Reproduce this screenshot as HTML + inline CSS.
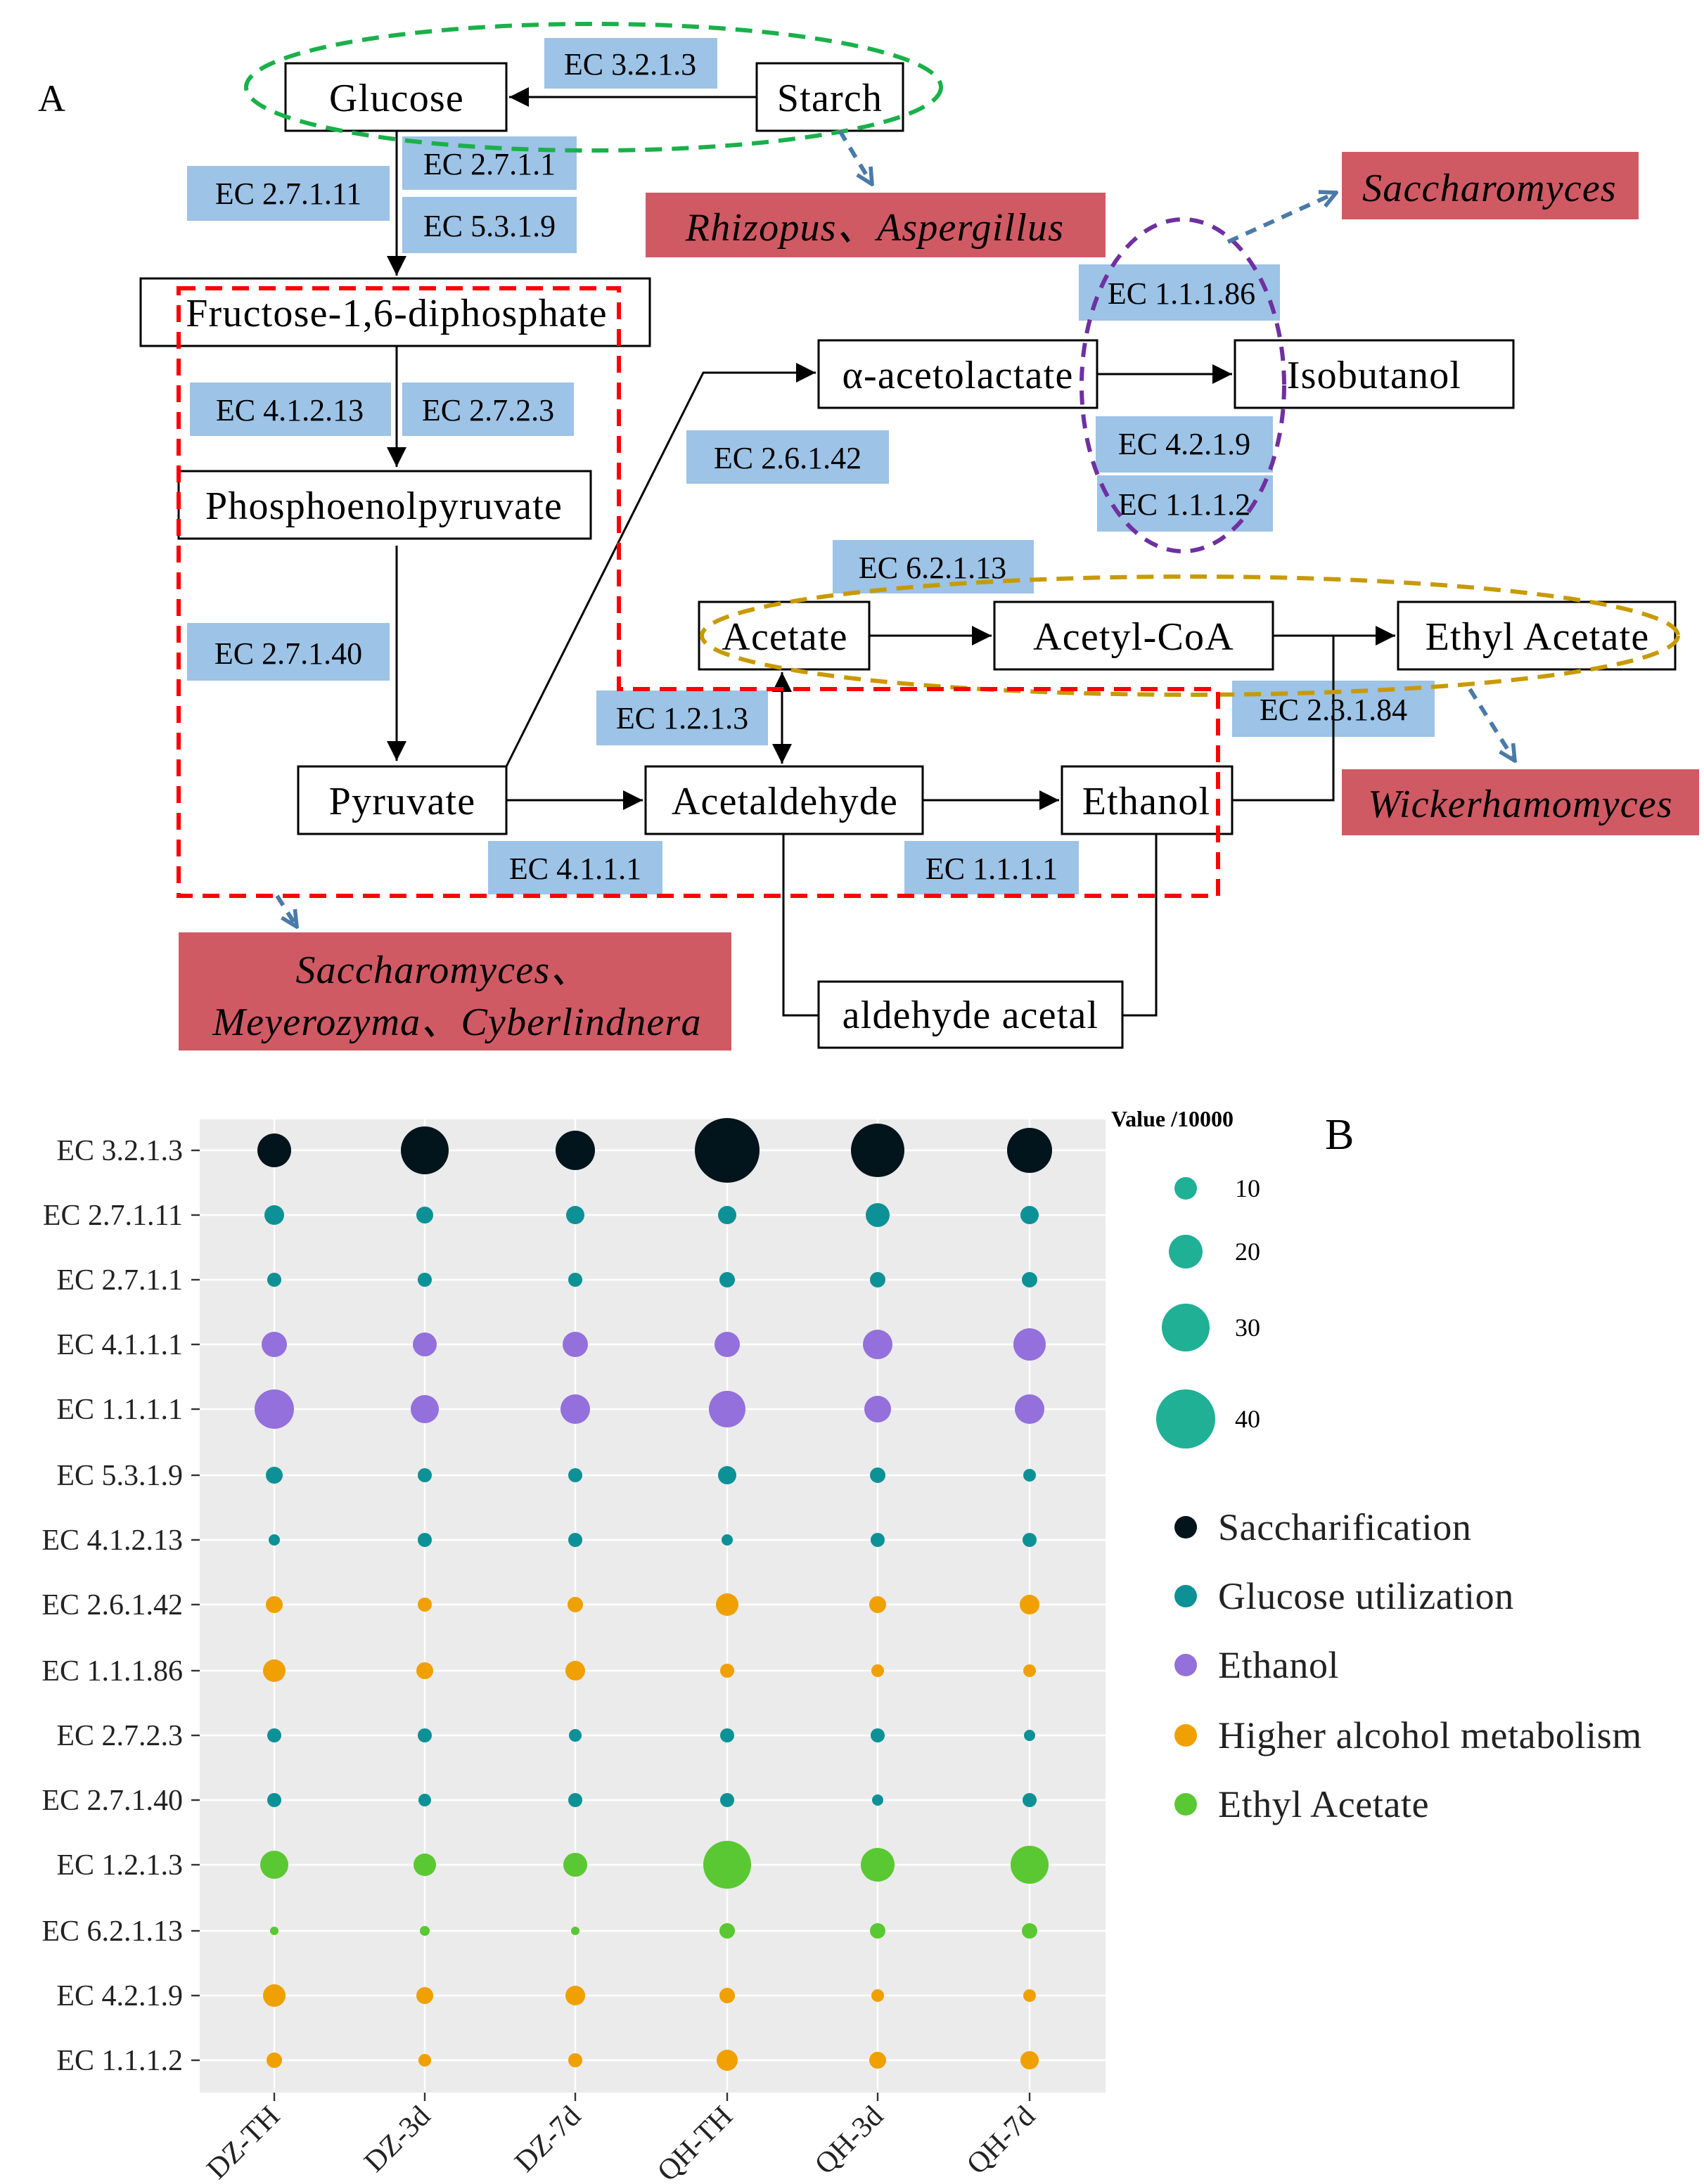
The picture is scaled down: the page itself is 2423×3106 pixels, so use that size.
<!DOCTYPE html>
<html><head><meta charset="utf-8"><style>html,body{margin:0;padding:0;background:#fff}svg{display:block}</style></head>
<body>
<svg xmlns="http://www.w3.org/2000/svg" width="2423" height="3106" viewBox="0 0 1211.5 1553" font-family="Liberation Serif, serif">
<defs>
<marker id="ah" viewBox="0 0 10 10" refX="10" refY="5" markerWidth="14" markerHeight="14" markerUnits="userSpaceOnUse" orient="auto-start-reverse"><path d="M0,0 L10,5 L0,10 z" fill="#000"/></marker>
<marker id="bh" viewBox="0 0 10 10" refX="9" refY="5" markerWidth="14" markerHeight="14" markerUnits="userSpaceOnUse" orient="auto"><path d="M1,1 L9,5 L1,9" fill="none" stroke="#4a7aa8" stroke-width="2"/></marker>
</defs>
<rect width="1211.5" height="1553" fill="#fff"/>
<text x="27" y="79" font-size="27">A</text>
<g fill="#9dc3e6">
<rect x="387" y="27" width="123" height="36"/>
<rect x="133" y="118" width="144" height="39"/>
<rect x="286" y="97" width="124" height="38"/>
<rect x="286" y="140" width="124" height="40"/>
<rect x="135" y="272" width="143" height="38"/>
<rect x="286" y="272" width="122" height="38"/>
<rect x="133" y="443" width="144" height="41"/>
<rect x="488" y="306" width="144" height="38"/>
<rect x="767" y="188" width="143" height="40"/>
<rect x="779" y="296" width="126" height="40"/>
<rect x="780" y="338" width="125" height="40"/>
<rect x="592" y="384" width="143" height="38"/>
<rect x="876" y="484" width="144" height="40"/>
<rect x="424" y="491" width="122" height="39"/>
<rect x="347" y="598" width="124" height="38"/>
<rect x="643" y="598" width="124" height="38"/>
</g>
<g font-size="22" text-anchor="middle" fill="#000">
<text x="448" y="53">EC 3.2.1.3</text>
<text x="205" y="145">EC 2.7.1.11</text>
<text x="348" y="124">EC 2.7.1.1</text>
<text x="348" y="168">EC 5.3.1.9</text>
<text x="206" y="299">EC 4.1.2.13</text>
<text x="347" y="299">EC 2.7.2.3</text>
<text x="205" y="472">EC 2.7.1.40</text>
<text x="560" y="333">EC 2.6.1.42</text>
<text x="840" y="216">EC 1.1.1.86</text>
<text x="842" y="323">EC 4.2.1.9</text>
<text x="842" y="366">EC 1.1.1.2</text>
<text x="663" y="411">EC 6.2.1.13</text>
<text x="948" y="512">EC 2.3.1.84</text>
<text x="485" y="518">EC 1.2.1.3</text>
<text x="409" y="625">EC 4.1.1.1</text>
<text x="705" y="625">EC 1.1.1.1</text>
</g>
<g fill="#d05a64">
<rect x="459" y="137" width="327" height="46"/>
<rect x="954" y="108" width="211" height="48"/>
<rect x="954" y="547" width="254" height="47"/>
<rect x="127" y="663" width="393" height="84"/>
</g>
<g font-size="28" font-style="italic" text-anchor="middle" fill="#000" letter-spacing="0.6">
<text x="622" y="171">Rhizopus、Aspergillus</text>
<text x="1059" y="143">Saccharomyces</text>
<text x="1081" y="581">Wickerhamomyces</text>
<text x="315" y="699">Saccharomyces、</text>
<text x="325" y="736">Meyerozyma、Cyberlindnera</text>
</g>
<g fill="#fff" stroke="#000" stroke-width="1.5">
<rect x="203" y="45" width="157" height="48"/>
<rect x="538" y="45" width="104" height="48"/>
<rect x="100" y="198" width="362" height="48"/>
<rect x="127" y="335" width="293" height="48"/>
<rect x="212" y="545" width="148" height="48"/>
<rect x="582" y="242" width="198" height="48"/>
<rect x="878" y="242" width="198" height="48"/>
<rect x="497" y="428" width="121" height="48"/>
<rect x="707" y="428" width="198" height="48"/>
<rect x="994" y="428" width="197" height="48"/>
<rect x="459" y="545" width="197" height="48"/>
<rect x="755" y="545" width="121" height="48"/>
<rect x="582" y="698" width="216" height="47"/>
</g>
<g font-size="28" text-anchor="middle" fill="#000" letter-spacing="0.6">
<text x="282" y="79">Glucose</text>
<text x="590" y="79">Starch</text>
<text x="282" y="232">Fructose-1,6-diphosphate</text>
<text x="273" y="369">Phosphoenolpyruvate</text>
<text x="286" y="579">Pyruvate</text>
<text x="681" y="276">α-acetolactate</text>
<text x="977" y="276">Isobutanol</text>
<text x="558" y="462">Acetate</text>
<text x="806" y="462">Acetyl-CoA</text>
<text x="1093" y="462">Ethyl Acetate</text>
<text x="558" y="579">Acetaldehyde</text>
<text x="815" y="579">Ethanol</text>
<text x="690" y="731">aldehyde acetal</text>
</g>
<g stroke="#000" stroke-width="1.5" fill="none">
<line x1="538" y1="69" x2="362" y2="69" marker-end="url(#ah)"/>
<line x1="282" y1="93" x2="282" y2="196" marker-end="url(#ah)"/>
<line x1="282" y1="246" x2="282" y2="332" marker-end="url(#ah)"/>
<line x1="282" y1="388" x2="282" y2="541" marker-end="url(#ah)"/>
<polyline points="360,545 500,265 580,265" marker-end="url(#ah)"/>
<line x1="780" y1="266" x2="876" y2="266" marker-end="url(#ah)"/>
<line x1="618" y1="452" x2="705" y2="452" marker-end="url(#ah)"/>
<line x1="905" y1="452" x2="992" y2="452" marker-end="url(#ah)"/>
<polyline points="876,569 948,569 948,452"/>
<line x1="556" y1="478" x2="556" y2="543" marker-start="url(#ah)" marker-end="url(#ah)"/>
<line x1="360" y1="569" x2="457" y2="569" marker-end="url(#ah)"/>
<line x1="656" y1="569" x2="753" y2="569" marker-end="url(#ah)"/>
<polyline points="557,593 557,722 582,722"/>
<polyline points="822,593 822,722 798,722"/>
</g>
<ellipse cx="422" cy="62" rx="247" ry="45" fill="none" stroke="#1ab04a" stroke-width="3" stroke-dasharray="12,7"/>
<ellipse cx="841" cy="274" rx="72" ry="118" fill="none" stroke="#7030a0" stroke-width="3" stroke-dasharray="10,7"/>
<ellipse cx="846" cy="452" rx="347" ry="42" fill="none" stroke="#c89a00" stroke-width="3" stroke-dasharray="12,7"/>
<polygon points="127,205 440,205 440,490 866,490 866,637 127,637" fill="none" stroke="#ff0000" stroke-width="3" stroke-dasharray="12,7"/>
<g stroke="#4a7aa8" stroke-width="3" stroke-dasharray="8,6" fill="none">
<line x1="597" y1="93" x2="620" y2="131" marker-end="url(#bh)"/>
<line x1="873" y1="172" x2="950" y2="137" marker-end="url(#bh)"/>
<line x1="1045" y1="490" x2="1077" y2="541" marker-end="url(#bh)"/>
<line x1="197" y1="637" x2="211" y2="659" marker-end="url(#bh)"/>
</g>
<rect x="142" y="796" width="644" height="692" fill="#ebebeb"/>
<g stroke="#fff" stroke-width="1.2">
<line x1="142" y1="818" x2="786" y2="818"/><line x1="142" y1="864" x2="786" y2="864"/><line x1="142" y1="910" x2="786" y2="910"/><line x1="142" y1="956" x2="786" y2="956"/><line x1="142" y1="1002" x2="786" y2="1002"/><line x1="142" y1="1049" x2="786" y2="1049"/><line x1="142" y1="1095" x2="786" y2="1095"/><line x1="142" y1="1141" x2="786" y2="1141"/><line x1="142" y1="1188" x2="786" y2="1188"/><line x1="142" y1="1234" x2="786" y2="1234"/><line x1="142" y1="1280" x2="786" y2="1280"/><line x1="142" y1="1326" x2="786" y2="1326"/><line x1="142" y1="1373" x2="786" y2="1373"/><line x1="142" y1="1419" x2="786" y2="1419"/><line x1="142" y1="1465" x2="786" y2="1465"/>
<line x1="195" y1="796" x2="195" y2="1488"/><line x1="302" y1="796" x2="302" y2="1488"/><line x1="409" y1="796" x2="409" y2="1488"/><line x1="517" y1="796" x2="517" y2="1488"/><line x1="624" y1="796" x2="624" y2="1488"/><line x1="732" y1="796" x2="732" y2="1488"/>
</g>
<g stroke="#333" stroke-width="1.2">
<line x1="136" y1="818" x2="142" y2="818"/><line x1="136" y1="864" x2="142" y2="864"/><line x1="136" y1="910" x2="142" y2="910"/><line x1="136" y1="956" x2="142" y2="956"/><line x1="136" y1="1002" x2="142" y2="1002"/><line x1="136" y1="1049" x2="142" y2="1049"/><line x1="136" y1="1095" x2="142" y2="1095"/><line x1="136" y1="1141" x2="142" y2="1141"/><line x1="136" y1="1188" x2="142" y2="1188"/><line x1="136" y1="1234" x2="142" y2="1234"/><line x1="136" y1="1280" x2="142" y2="1280"/><line x1="136" y1="1326" x2="142" y2="1326"/><line x1="136" y1="1373" x2="142" y2="1373"/><line x1="136" y1="1419" x2="142" y2="1419"/><line x1="136" y1="1465" x2="142" y2="1465"/>
<line x1="195" y1="1488" x2="195" y2="1494"/><line x1="302" y1="1488" x2="302" y2="1494"/><line x1="409" y1="1488" x2="409" y2="1494"/><line x1="517" y1="1488" x2="517" y2="1494"/><line x1="624" y1="1488" x2="624" y2="1494"/><line x1="732" y1="1488" x2="732" y2="1494"/>
</g>
<g font-size="21" text-anchor="end" fill="#222">
<text x="130" y="825">EC 3.2.1.3</text><text x="130" y="871">EC 2.7.1.11</text><text x="130" y="917">EC 2.7.1.1</text><text x="130" y="963">EC 4.1.1.1</text><text x="130" y="1009">EC 1.1.1.1</text><text x="130" y="1056">EC 5.3.1.9</text><text x="130" y="1102">EC 4.1.2.13</text><text x="130" y="1148">EC 2.6.1.42</text><text x="130" y="1195">EC 1.1.1.86</text><text x="130" y="1241">EC 2.7.2.3</text><text x="130" y="1287">EC 2.7.1.40</text><text x="130" y="1333">EC 1.2.1.3</text><text x="130" y="1380">EC 6.2.1.13</text><text x="130" y="1426">EC 4.2.1.9</text><text x="130" y="1472">EC 1.1.1.2</text>
</g>
<g font-size="21" text-anchor="end" fill="#222">
<text transform="translate(200,1506) rotate(-45)">DZ-TH</text>
<text transform="translate(307,1506) rotate(-45)">DZ-3d</text>
<text transform="translate(414,1506) rotate(-45)">DZ-7d</text>
<text transform="translate(522,1506) rotate(-45)">QH-TH</text>
<text transform="translate(629,1506) rotate(-45)">QH-3d</text>
<text transform="translate(737,1506) rotate(-45)">QH-7d</text>
</g>
<g fill="#02141c"><circle cx="195" cy="818" r="12"/><circle cx="302" cy="818" r="17"/><circle cx="409" cy="818" r="14"/><circle cx="517" cy="818" r="23"/><circle cx="624" cy="818" r="19"/><circle cx="732" cy="818" r="16"/></g>
<g fill="#0c9196">
<circle cx="195" cy="864" r="7"/><circle cx="302" cy="864" r="6"/><circle cx="409" cy="864" r="6.5"/><circle cx="517" cy="864" r="6.5"/><circle cx="624" cy="864" r="8.5"/><circle cx="732" cy="864" r="6.5"/>
<circle cx="195" cy="910" r="5"/><circle cx="302" cy="910" r="5"/><circle cx="409" cy="910" r="5"/><circle cx="517" cy="910" r="5.5"/><circle cx="624" cy="910" r="5.5"/><circle cx="732" cy="910" r="5.5"/>
<circle cx="195" cy="1049" r="6"/><circle cx="302" cy="1049" r="5"/><circle cx="409" cy="1049" r="5"/><circle cx="517" cy="1049" r="6.5"/><circle cx="624" cy="1049" r="5.5"/><circle cx="732" cy="1049" r="4.5"/>
<circle cx="195" cy="1095" r="4"/><circle cx="302" cy="1095" r="5"/><circle cx="409" cy="1095" r="5"/><circle cx="517" cy="1095" r="4"/><circle cx="624" cy="1095" r="5"/><circle cx="732" cy="1095" r="5"/>
<circle cx="195" cy="1234" r="5"/><circle cx="302" cy="1234" r="5"/><circle cx="409" cy="1234" r="4.5"/><circle cx="517" cy="1234" r="5"/><circle cx="624" cy="1234" r="5"/><circle cx="732" cy="1234" r="4"/>
<circle cx="195" cy="1280" r="5"/><circle cx="302" cy="1280" r="4.5"/><circle cx="409" cy="1280" r="5"/><circle cx="517" cy="1280" r="5"/><circle cx="624" cy="1280" r="4"/><circle cx="732" cy="1280" r="5"/>
</g>
<g fill="#9370db">
<circle cx="195" cy="956" r="9"/><circle cx="302" cy="956" r="8.5"/><circle cx="409" cy="956" r="9"/><circle cx="517" cy="956" r="9"/><circle cx="624" cy="956" r="10.5"/><circle cx="732" cy="956" r="11.5"/>
<circle cx="195" cy="1002" r="14"/><circle cx="302" cy="1002" r="10"/><circle cx="409" cy="1002" r="10.5"/><circle cx="517" cy="1002" r="13"/><circle cx="624" cy="1002" r="9.5"/><circle cx="732" cy="1002" r="10.5"/>
</g>
<g fill="#f0a000">
<circle cx="195" cy="1141" r="6"/><circle cx="302" cy="1141" r="5"/><circle cx="409" cy="1141" r="5.5"/><circle cx="517" cy="1141" r="8"/><circle cx="624" cy="1141" r="6"/><circle cx="732" cy="1141" r="7"/>
<circle cx="195" cy="1188" r="8"/><circle cx="302" cy="1188" r="6"/><circle cx="409" cy="1188" r="7"/><circle cx="517" cy="1188" r="5"/><circle cx="624" cy="1188" r="4.5"/><circle cx="732" cy="1188" r="4.5"/>
<circle cx="195" cy="1419" r="8"/><circle cx="302" cy="1419" r="6"/><circle cx="409" cy="1419" r="7"/><circle cx="517" cy="1419" r="5.5"/><circle cx="624" cy="1419" r="4.5"/><circle cx="732" cy="1419" r="4.5"/>
<circle cx="195" cy="1465" r="5.5"/><circle cx="302" cy="1465" r="4.5"/><circle cx="409" cy="1465" r="5"/><circle cx="517" cy="1465" r="7.5"/><circle cx="624" cy="1465" r="6"/><circle cx="732" cy="1465" r="6.5"/>
</g>
<g fill="#5ac832">
<circle cx="195" cy="1326" r="10"/><circle cx="302" cy="1326" r="8"/><circle cx="409" cy="1326" r="8.5"/><circle cx="517" cy="1326" r="17"/><circle cx="624" cy="1326" r="12"/><circle cx="732" cy="1326" r="13.5"/>
<circle cx="195" cy="1373" r="3"/><circle cx="302" cy="1373" r="3.5"/><circle cx="409" cy="1373" r="3"/><circle cx="517" cy="1373" r="5.5"/><circle cx="624" cy="1373" r="5.5"/><circle cx="732" cy="1373" r="5.5"/>
</g>
<text x="790" y="801" font-size="16" font-weight="bold">Value /10000</text>
<text x="942" y="817" font-size="31">B</text>
<g fill="#1fb095"><circle cx="843" cy="845" r="8"/><circle cx="843" cy="890" r="12"/><circle cx="843" cy="944" r="17"/><circle cx="843" cy="1009" r="21"/></g>
<g font-size="18"><text x="878" y="851">10</text><text x="878" y="896">20</text><text x="878" y="950">30</text><text x="878" y="1015">40</text></g>
<circle cx="843" cy="1086" r="8" fill="#02141c"/><circle cx="843" cy="1135" r="8" fill="#0c9196"/><circle cx="843" cy="1184" r="8" fill="#9370db"/><circle cx="843" cy="1234" r="8" fill="#f0a000"/><circle cx="843" cy="1283" r="8" fill="#5ac832"/>
<g font-size="27" fill="#222" letter-spacing="0.3"><text x="866" y="1095">Saccharification</text><text x="866" y="1144">Glucose utilization</text><text x="866" y="1193">Ethanol</text><text x="866" y="1243">Higher alcohol metabolism</text><text x="866" y="1292">Ethyl Acetate</text></g>
</svg>
</body></html>
